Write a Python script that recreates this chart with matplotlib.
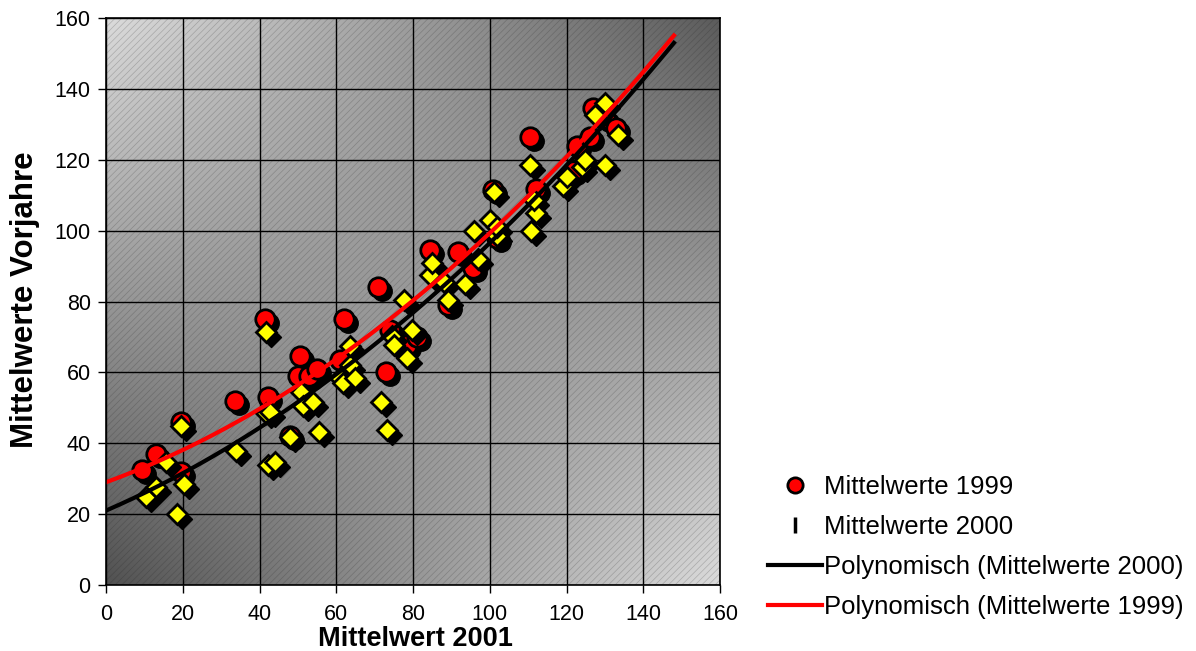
import numpy as np
import matplotlib
matplotlib.use("Agg")
import matplotlib.pyplot as plt
import matplotlib.transforms as mtransforms
from matplotlib.lines import Line2D
from matplotlib.patches import Rectangle

plt.rcParams['font.family'] = ['Liberation Sans', 'DejaVu Sans']
plt.rcParams['hatch.linewidth'] = 0.5

# ---- data ----
x_1999 = [9.4, 13, 19.5, 19.5, 33.6, 41.4, 42.2, 48, 50.5, 50, 53, 55, 62, 61, 71, 73,
          74, 78.4, 81, 89, 84.4, 91.7, 95.6, 100.8, 102, 110.5, 112, 121.7, 122.7,
          126, 127, 130, 133]
y_1999 = [32.4, 37, 46, 32, 52, 75, 53, 42, 64.6, 59, 59, 61, 75, 63.5, 84, 60,
          72, 67.7, 70, 79, 94.5, 94, 89.4, 111.4, 98, 126.4, 111.7, 116.8, 124,
          126.4, 134.6, 131.8, 129]

x_2000 = [10.4, 13, 15.6, 18.5, 20.3, 19.5, 34, 41.7, 41.7, 42.2, 44, 48, 42.7, 50.8,
          51.3, 53.9, 55.5, 61, 61.7, 63.6, 63.6, 64.9, 71.7, 73.2, 74.5, 75, 78.4,
          77.7, 79.7, 84.4, 85, 88, 89, 93.5, 96, 97, 100, 101, 102, 102, 110.5,
          110.8, 112, 111.5, 119, 120, 124, 124.8, 127.4, 130, 130, 133.4]
y_2000 = [24.8, 27.6, 34.7, 20, 28.5, 45, 37.8, 48.5, 71.4, 33.9, 34.7, 41.8, 48.8, 54.5,
          50.5, 51.6, 43.2, 58.4, 57, 62, 67.4, 58.4, 51.6, 43.7, 70.3, 67.7, 64,
          80.4, 72, 87.5, 91, 85.5, 80.4, 85, 100, 92, 103, 111, 98.5, 101, 118.5,
          100, 105, 108.6, 112.6, 115, 118, 120, 132.6, 136, 118.5, 127]

# polynomial (order 2) trendline coefficients: [c2, c1, c0]
trend_2000 = [0.00285, 0.470, 21.0]
trend_1999 = [0.00310, 0.393, 29.0]
trend_x_range = [0, 148]

x_ticks = [0, 20, 40, 60, 80, 100, 120, 140, 160]
y_ticks = [0, 20, 40, 60, 80, 100, 120, 140, 160]

labels = ['Mittelwerte 1999', 'Mittelwerte 2000',
          'Polynomisch (Mittelwerte 2000)', 'Polynomisch (Mittelwerte 1999)']

# ---- figure ----
W, H = 1196, 651
fig = plt.figure(figsize=(W / 100, H / 100), dpi=100)
fig.patch.set_facecolor('white')
ax = fig.add_axes([106 / W, 1 - 585 / H, 614 / W, 567 / H])
ax.set_xlim(0, 160)
ax.set_ylim(0, 160)

# background gradient (bilinear, light TL & BR, dark BL & TR)
n = 200
u = np.linspace(0, 1, n)[None, :]
v = np.linspace(1, 0, n)[:, None]
tl, tr, bl, br = 0.86, 0.36, 0.32, 0.86
g = (tl * (1 - u) * v + tr * u * v + bl * (1 - u) * (1 - v) + br * u * (1 - v))
img = np.dstack([g, g, g])
ax.imshow(img, extent=[0, 160, 0, 160], aspect='auto', zorder=0, interpolation='bilinear')
hatch = Rectangle((0, 0), 160, 160, fill=False, hatch='/////', linewidth=0,
                  edgecolor=(0.1, 0.1, 0.1, 0.22), zorder=0.5)
ax.add_patch(hatch)

ax.grid(True, color='black', linewidth=1.0, zorder=1)
for gl in ax.get_xgridlines() + ax.get_ygridlines():
    gl.set_zorder(1)

ax.set_xticks(x_ticks)
ax.set_yticks(y_ticks)
ax.tick_params(direction='out', length=6, width=1, labelsize=15.5)
ax.tick_params(axis='x', pad=8)
ax.tick_params(axis='y', pad=5)
for s in ax.spines.values():
    s.set_linewidth(1.2)
    s.set_zorder(6)

# shadows
sh_c = mtransforms.offset_copy(ax.transData, fig=fig, x=4, y=-4, units='dots')
sh_d = mtransforms.offset_copy(ax.transData, fig=fig, x=5, y=-5, units='dots')

ax.plot(x_1999, y_1999, 'o', ms=14, color='black', mec='black', transform=sh_c, zorder=2)
ax.plot(x_1999, y_1999, 'o', ms=14, mfc='#ff0000', mec='black', mew=2, zorder=2.1)
ax.plot(x_2000, y_2000, 'D', ms=10.5, color='black', mec='black', transform=sh_d, zorder=2.2)
ax.plot(x_2000, y_2000, 'D', ms=10.5, mfc='#ffff00', mec='black', mew=2, zorder=2.3)

xs = np.linspace(trend_x_range[0], trend_x_range[1], 300)
ax.plot(xs, np.polyval(trend_2000, xs), color='black', lw=3, zorder=3)
ax.plot(xs, np.polyval(trend_1999, xs), color='#ff0000', lw=3, zorder=3.1)

fig.text(415 / W, 1 - 639 / H, 'Mittelwert 2001', fontsize=19.5, fontweight='bold',
         ha='center', va='center')
fig.text(25 / W, 1 - 300 / H, 'Mittelwerte Vorjahre', fontsize=22.5, fontweight='bold',
         ha='center', va='center', rotation=90)

handles = [
    Line2D([], [], marker='o', ls='none', ms=11, mfc='#ff0000', mec='black', mew=2),
    Line2D([], [], marker='|', ls='none', ms=12, color='black', mew=2.5),
    Line2D([], [], color='black', lw=3),
    Line2D([], [], color='#ff0000', lw=3),
]
fig.legend(handles, labels, loc='upper left', bbox_to_anchor=(755 / W, 1 - 462 / H),
           frameon=False, fontsize=18.5, handlelength=2.1, handletextpad=0.1,
           labelspacing=0.62, borderpad=0)

fig.savefig('out.png', dpi=100)
